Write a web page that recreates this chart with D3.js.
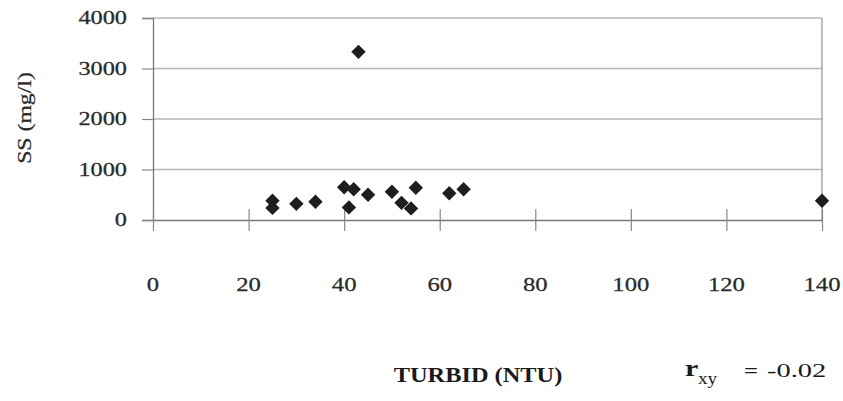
<!DOCTYPE html>
<html><head><meta charset="utf-8">
<script src="https://cdn.jsdelivr.net/npm/d3@7"></script>
<style>body{margin:0;background:#fff}svg{display:block}</style>
</head><body>
<svg id="c" width="843" height="401"></svg>
<script>
const turbid = [25, 25, 30, 34, 40, 41, 42, 43, 45, 50, 52, 54, 55, 62, 65, 140];
const ss     = [380, 240, 320, 360, 650, 250, 610, 3330, 500, 560, 340, 230, 640, 530, 610, 380];
const xTicks = [0, 20, 40, 60, 80, 100, 120, 140];
const yTicks = [0, 1000, 2000, 3000, 4000];
const xTitle = "TURBID (NTU)";
const yTitle = "SS (mg/l)";
const rValue = "-0.02";

const svg = d3.select("#c");
const x = d3.scaleLinear().domain([0, 140]).range([153, 822]);
const y = d3.scaleLinear().domain([0, 4000]).range([220, 18]);
const font = "'Liberation Serif','Times New Roman',serif";

// gridlines
svg.append("g").selectAll("line").data(yTicks.filter(d => d > 0)).join("line")
  .attr("x1", x(0)).attr("x2", x(140)).attr("y1", d => y(d)).attr("y2", d => y(d))
  .attr("stroke", "#b8b8b8").attr("stroke-width", 1.3);
// right border
svg.append("line").attr("x1", x(140)).attr("x2", x(140)).attr("y1", y(4000)).attr("y2", y(0))
  .attr("stroke", "#999").attr("stroke-width", 1.3);

// y axis
const yAxis = svg.append("g").attr("transform", `translate(${x(0)},0)`)
  .call(d3.axisLeft(y).tickValues(yTicks).tickSize(11).tickFormat(""));
yAxis.select(".domain").attr("stroke", "#777").attr("stroke-width", 1.3);
yAxis.selectAll(".tick line").attr("stroke", "#888").attr("stroke-width", 1.2);

// x axis
const xAxis = svg.append("g").attr("transform", `translate(0,${y(0)})`)
  .call(d3.axisBottom(x).tickValues(xTicks).tickSize(0).tickFormat(""));
xAxis.select(".domain").attr("stroke", "#777").attr("stroke-width", 1.3);
xAxis.selectAll(".tick").append("line").attr("y1", -11).attr("y2", 11)
  .attr("stroke", "#888").attr("stroke-width", 1.2);

// y tick labels
svg.append("g").selectAll("text").data(yTicks).join("text")
  .attr("transform", d => `translate(127,${y(d) + 6}) scale(1.35,1)`)
  .attr("text-anchor", "end").attr("font-family", font).attr("font-size", 18)
  .attr("fill", "#2a2a2a").attr("stroke", "#2a2a2a").attr("stroke-width", 0.25).text(d => d);

// x tick labels
svg.append("g").selectAll("text").data(xTicks).join("text")
  .attr("transform", d => `translate(${x(d)},291) scale(1.3,1)`)
  .attr("text-anchor", "middle").attr("font-family", font).attr("font-size", 19)
  .attr("fill", "#2a2a2a").attr("stroke", "#2a2a2a").attr("stroke-width", 0.25).text(d => d);

// points
svg.append("g").selectAll("path").data(turbid.map((t, i) => [t, ss[i]])).join("path")
  .attr("transform", d => `translate(${x(d[0])},${y(d[1])})`)
  .attr("d", "M0,-7.2L7.2,0L0,7.2L-7.2,0Z")
  .attr("fill", "#1e1e1e");

// y title
svg.append("text")
  .attr("transform", "translate(31,118) rotate(-90) scale(1.25,1)")
  .attr("text-anchor", "middle").attr("font-family", font).attr("font-size", 19)
  .attr("fill", "#2a2a2a").attr("stroke", "#2a2a2a").attr("stroke-width", 0.25).text(yTitle);

// x title
svg.append("text")
  .attr("transform", "translate(478,382) scale(1.22,1)")
  .attr("text-anchor", "middle").attr("font-family", font).attr("font-size", 20)
  .attr("font-weight", "bold").attr("fill", "#1a1a1a").text(xTitle);

// r_xy annotation
const r = svg.append("g").attr("font-family", font).attr("fill", "#1a1a1a");
r.append("text").attr("transform", "translate(685,376) scale(1.25,1)")
  .attr("font-size", 24).attr("font-weight", "bold").text("r");
r.append("text").attr("transform", "translate(698,384) scale(1.2,1)")
  .attr("font-size", 16).text("xy");
r.append("text").attr("transform", "translate(744,377) scale(1.3,1)")
  .attr("font-size", 19).attr("font-weight", "bold").text("=");
r.append("text").attr("transform", "translate(767,377) scale(1.5,1)")
  .attr("font-size", 19).text(rValue);
</script>
</body></html>
